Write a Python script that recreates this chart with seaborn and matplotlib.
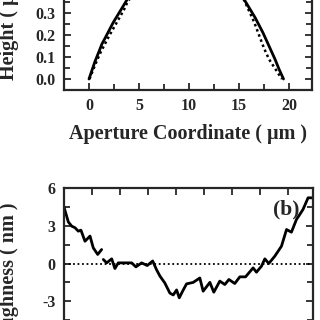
import numpy as np
import pandas as pd
import matplotlib
matplotlib.use("Agg")
import matplotlib.pyplot as plt
import seaborn as sns

# (a) aperture height profile, um
height_x = [0, 0.3, 0.6, 1.0, 1.3, 1.6, 2.0, 2.4, 2.8, 3.2, 3.6, 4.0, 5.0, 6.5, 8.0, 9.7,
            11.5, 13.0, 14.5, 15.0, 15.4, 15.8, 16.2, 16.6, 17.0, 17.4, 17.8, 18.2, 18.6, 19.0, 19.45]
height_meas = [0.0, 0.04, 0.08, 0.125, 0.16, 0.185, 0.22, 0.255, 0.285, 0.315, 0.345, 0.375, 0.44, 0.52, 0.57, 0.59,
               0.57, 0.52, 0.44, 0.405, 0.37, 0.34, 0.31, 0.28, 0.245, 0.21, 0.17, 0.13, 0.09, 0.045, 0.0]
fit_x = [0.05, 0.4, 0.8, 1.2, 1.6, 2.0, 2.5, 3.0, 3.5, 3.8, 5.0, 6.5, 8.0, 9.7, 11.5, 13.0,
         14.5, 15.2, 15.6, 16.0, 16.5, 17.0, 17.5, 18.0, 18.5, 19.0, 19.3]
fit_y = [0.0, 0.04, 0.085, 0.125, 0.16, 0.195, 0.235, 0.275, 0.315, 0.345, 0.43, 0.51, 0.56, 0.58, 0.56, 0.51,
         0.43, 0.385, 0.35, 0.31, 0.26, 0.2, 0.14, 0.09, 0.055, 0.02, 0.0]

# (b) roughness, nm (two pieces, gap between them)
rough_x1 = [0.0, 0.31, 0.55, 0.79, 1.02, 1.21, 1.5, 1.86, 2.09, 2.41, 2.69]
rough_y1 = [4.48, 3.3, 2.97, 2.84, 2.57, 2.65, 1.77, 2.18, 1.25, 0.72, 1.11]
rough_x2 = [2.81, 3.05, 3.41, 3.64, 3.88, 4.36, 4.84, 5.14, 5.55, 5.95, 6.34, 6.62, 6.86, 7.21, 7.57,
            7.81, 8.05, 8.24, 8.48, 8.76, 9.24, 9.71, 9.95, 10.43, 10.71, 11.14, 11.5, 11.79, 12.21, 12.57,
            12.98, 13.52, 13.76, 14.12, 14.36, 14.64, 15.07, 15.55, 15.91, 16.26, 16.62, 16.86, 17.09, 17.45, 17.74]
rough_y2 = [0.32, 0.05, 0.37, -0.4, 0.05, 0.05, 0.05, -0.27, 0.05, -0.16, 0.2, -0.5, -1.0, -1.55, -2.35,
            -2.5, -2.1, -2.73, -2.2, -1.62, -1.5, -1.15, -2.2, -1.5, -2.28, -1.4, -1.67, -1.27, -1.59, -1.06,
            -1.06, -0.35, -0.69, -0.21, 0.37, 0.0, 0.58, 1.38, 2.7, 2.49, 3.5, 3.9, 4.3, 5.22, 5.22]

sns.set_style("ticks")
plt.rcParams['font.family'] = ['Liberation Serif', 'DejaVu Serif']
plt.rcParams['font.weight'] = 'bold'
plt.rcParams['axes.labelweight'] = 'bold'
plt.rcParams['axes.unicode_minus'] = False

fig = plt.figure(figsize=(3.2, 3.2), dpi=100)
ax1 = fig.add_axes([0.2, 0.71875, 0.775, 0.5156])
ax2 = fig.add_axes([0.2, -0.0594, 0.778, 0.4719])

df_meas = pd.DataFrame({'x': height_x, 'y': height_meas})
df_fit = pd.DataFrame({'x': fit_x, 'y': fit_y})
sns.lineplot(data=df_meas, x='x', y='y', ax=ax1, color='black', lw=2.0, estimator=None)
sns.lineplot(data=df_fit, x='x', y='y', ax=ax1, color='black', lw=1.8, ls=(0, (1, 1.2)), estimator=None)
ax1.set_xlim(-2.5, 22.3)
ax1.set_ylim(-0.05, 0.7)
ax1.set_xticks([0, 5, 10, 15, 20])
ax1.set_xticks(np.arange(-2.5, 22.5, 2.5), minor=True)
ax1.set_yticks(np.arange(0, 0.61, 0.1))
ax1.set_yticks(np.arange(0, 0.7, 0.05), minor=True)
ax1.set_yticklabels(['0.0', '0.1', '0.2', '0.3', '0.4', '0.5', '0.6'])
ax1.set_xlabel('Aperture Coordinate ( μm )', fontsize=14.5, labelpad=7)
ax1.set_ylabel('Height ( μm )', fontsize=14.5, ha='left')
ax1.yaxis.set_label_coords(0.058, (320 - 80) / 320, transform=fig.transFigure)

df_r1 = pd.DataFrame({'x': rough_x1, 'y': rough_y1})
df_r2 = pd.DataFrame({'x': rough_x2, 'y': rough_y2})
ax2.axhline(0, color='black', lw=1.3, ls=(0, (1, 1.5)))
sns.lineplot(data=df_r1, x='x', y='y', ax=ax2, color='black', lw=2.0, estimator=None)
sns.lineplot(data=df_r2, x='x', y='y', ax=ax2, color='black', lw=2.0, estimator=None)
ax2.set_xlim(0, 17.8)
ax2.set_ylim(-6, 6)
ax2.set_xticks(np.arange(0, 18, 2))
ax2.set_yticks([-6, -3, 0, 3, 6])
ax2.set_yticks(np.arange(-6, 6.1, 1.5), minor=True)
ax2.set_xlabel('')
ax2.set_ylabel('Roughness ( nm )', fontsize=14.5, ha='right')
ax2.yaxis.set_label_coords(0.058, (320 - 202) / 320, transform=fig.transFigure)
ax2.text(15.9, 4.3, '(b)', fontsize=15.5, fontweight='bold', ha='center', va='center')

for ax in (ax1, ax2):
    for s in ax.spines.values():
        s.set_linewidth(1.6)
        s.set_visible(True)
    ax.tick_params(which='both', direction='in', top=True, right=True, width=1.3, labelsize=11.5, pad=6)
    ax.tick_params(which='major', length=5)
    ax.tick_params(which='minor', length=4)

fig.savefig('out.png', dpi=100)
